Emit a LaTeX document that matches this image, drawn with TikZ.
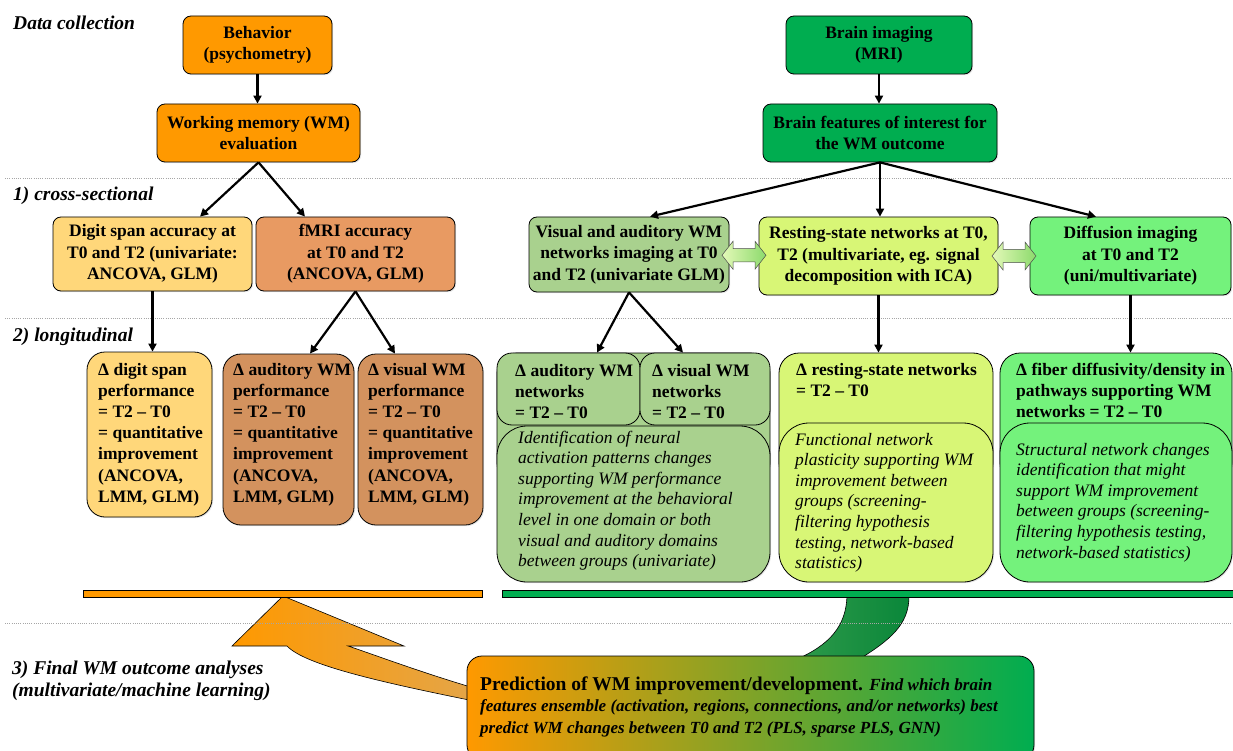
\documentclass[tikz,border=0pt]{standalone}
\usepackage{fontspec}
\setmainfont{Liberation Serif}
\usetikzlibrary{arrows.meta,shadows,calc}
\definecolor{orangeC}{HTML}{FF9900}
\definecolor{orangeT}{HTML}{E4A548}
\definecolor{greenC}{HTML}{00AD50}
\definecolor{greenA}{HTML}{2E9A4A}
\definecolor{greenB}{HTML}{0A873A}
\definecolor{digitC}{HTML}{FFD77A}
\definecolor{fmriC}{HTML}{E89A62}
\definecolor{brownC}{HTML}{D3925E}
\definecolor{visC}{HTML}{A9D18E}
\definecolor{restC}{HTML}{D8F676}
\definecolor{diffC}{HTML}{74F27C}
\definecolor{dblL}{HTML}{E4F9B8}
\definecolor{dblR}{HTML}{8CDA6C}
\begin{document}
\begin{tikzpicture}[x=1pt,y=-1pt,
  shad/.style={drop shadow={opacity=0.2, shadow xshift=1.2pt, shadow yshift=-1.2pt}},
  box/.style={draw=black, line width=0.8pt, rounded corners=8pt, align=center,
    font=\bfseries\fontsize{17.5}{21.5}\selectfont, inner sep=2pt, shad},
  dbox/.style={draw=black, line width=0.8pt, rounded corners=18pt, inner sep=0pt, shad},
  obox/.style={draw=black, line width=0.8pt, rounded corners=20pt, inner sep=0pt},
  ibox/.style={draw=black, line width=0.8pt, rounded corners=30pt, inner sep=0pt, shad},
  sbox/.style={draw=black, line width=0.8pt, rounded corners=15pt, inner sep=0pt},
  btext/.style={anchor=base west, inner sep=0pt, font=\bfseries\fontsize{17.5}{21.2}\selectfont},
  itext/.style={anchor=base west, inner sep=0pt, font=\itshape\fontsize{17.5}{20.6}\selectfont},
  lab/.style={anchor=base west, inner sep=0pt, font=\bfseries\itshape\fontsize{19.5}{22}\selectfont},
  arr/.style={-{Triangle[length=8pt,width=8pt]}, line width=2.2pt},
  sep/.style={draw=gray!70, line width=0.8pt, dash pattern=on 1pt off 1.2pt},
  blockarrow/.style={draw=black, line width=0.6pt},
  dbl/.style={draw=black!70, line width=0.5pt, left color=dblL, right color=dblR}
]
\useasboundingbox (0,0) rectangle (1233,751);

% ---- curved block arrows (behind) ----
\path[blockarrow, left color=orangeC, right color=orangeT]
  (283,596) -- (404,646) -- (348,646)
  .. controls (375,655) and (420,672) .. (474,688) -- (474,701)
  .. controls (380,682) and (305,665) .. (287,646) -- (232,646) -- cycle;
\path[blockarrow, left color=greenA, right color=greenB]
  (847,596) .. controls (846,626) and (830,645) .. (795,660) -- (858,660)
  .. controls (890,640) and (909,625) .. (909,596) -- cycle;

% ---- separators ----
\draw[sep] (5,178) -- (1233,178);
\draw[sep] (5,318) -- (1233,318);
\draw[sep] (5,623) -- (1233,623);

% ---- section labels ----
\node[lab] (l0) at (13,30) {Data collection};
\node[lab] (l1) at (13,201) {1) cross-sectional};
\node[lab] (l2) at (13,341) {2) longitudinal};
\node[lab] (l3) at (12,674) {\parbox[t]{400pt}{\raggedright 3) Final WM outcome analyses\\(multivariate/machine learning)}};

% ---- top boxes ----
\node[box, fill=orangeC, minimum width=149pt, minimum height=58pt] (beh) at (257.5,45) {Behavior\\(psychometry)};
\node[box, fill=orangeC, minimum width=203pt, minimum height=58pt] (wm) at (258.5,133) {Working memory (WM)\\evaluation};
\node[box, fill=greenC, minimum width=186pt, minimum height=58pt] (bi) at (879,45) {Brain imaging\\(MRI)};
\node[box, fill=greenC, minimum width=234pt, minimum height=58pt] (bf) at (880,133) {Brain features of interest for\\the WM outcome};

% ---- cross-sectional ----
\node[box, fill=digitC, minimum width=199pt, minimum height=74pt] (dig) at (152.5,254) {Digit span accuracy at\\T0 and T2 (univariate:\\ANCOVA, GLM)};
\node[box, fill=fmriC, minimum width=199pt, minimum height=74pt] (fmri) at (355.5,254) {fMRI accuracy\\at T0 and T2\\(ANCOVA, GLM)};
\node[box, fill=visC, minimum width=200pt, minimum height=75pt] (vis) at (629,254.5) {Visual and auditory WM\\networks imaging at T0\\and T2 (univariate GLM)};
\node[box, fill=restC, minimum width=239pt, minimum height=78pt] (rest) at (878.5,256) {Resting-state networks at T0,\\T2 (multivariate, eg. signal\\decomposition with ICA)};
\node[box, fill=diffC, minimum width=201pt, minimum height=78pt] (diff) at (1130.5,256) {Diffusion imaging\\at T0 and T2\\(uni/multivariate)};

% ---- longitudinal, behaviour ----
\node[dbox, fill=digitC, minimum width=125pt, minimum height=165pt] (ddig) at (149.5,434.5) {};
\node[dbox, fill=brownC, minimum width=131pt, minimum height=171pt] (daud) at (288.5,439.5) {};
\node[dbox, fill=brownC, minimum width=125pt, minimum height=171pt] (dvis) at (420.5,439.5) {};
\node[btext] (tddig) at (98,375) {\parbox[t]{120pt}{\raggedright Δ digit span\\performance\\= T2 – T0\\= quantitative\\improvement\\(ANCOVA,\\LMM, GLM)}};
\node[btext] (tdaud) at (233,375) {\parbox[t]{125pt}{\raggedright Δ auditory WM\\performance\\= T2 – T0\\= quantitative\\improvement\\(ANCOVA,\\LMM, GLM)}};
\node[btext] (tdvis) at (368,375) {\parbox[t]{120pt}{\raggedright Δ visual WM\\performance\\= T2 – T0\\= quantitative\\improvement\\(ANCOVA,\\LMM, GLM)}};

% ---- longitudinal, imaging ----
\node[obox, fill=visC, minimum width=273pt, minimum height=130pt] (gout) at (633.5,418) {};
\node[sbox, fill=visC, minimum width=143pt, minimum height=72pt] (gaud) at (568.5,389) {};
\node[sbox, fill=visC, minimum width=130pt, minimum height=72pt] (gvis) at (705,389) {};
\node[ibox, fill=visC, minimum width=273pt, minimum height=156pt] (ginn) at (633.5,504) {};
\node[btext] (tgaud) at (515,376) {\parbox[t]{125pt}{\raggedright Δ auditory WM\\networks\\= T2 – T0}};
\node[btext] (tgvis) at (652,376) {\parbox[t]{115pt}{\raggedright Δ visual WM\\networks\\= T2 – T0}};
\node[itext] (tginn) at (518,443) {\parbox[t]{250pt}{\raggedright Identification of neural\\activation patterns changes\\supporting WM performance\\improvement at the behavioral\\level in one domain or both\\visual and auditory domains\\between groups (univariate)}};

\node[obox, fill=restC, minimum width=214pt, minimum height=130pt] (rout) at (886,418) {};
\node[ibox, fill=restC, minimum width=214pt, minimum height=159pt] (rinn) at (886,502.5) {};
\node[btext] (trout) at (796,375) {\parbox[t]{200pt}{\raggedright Δ resting-state networks\\= T2 – T0}};
\node[itext] (trinn) at (795,445) {\parbox[t]{200pt}{\raggedright Functional network\\plasticity supporting WM\\improvement between\\groups (screening-\\filtering hypothesis\\testing, network-based\\statistics)}};

\node[obox, fill=diffC, minimum width=232pt, minimum height=130pt] (fout) at (1116,418) {};
\node[ibox, fill=diffC, minimum width=232pt, minimum height=159pt] (finn) at (1116,502.5) {};
\node[btext] (tfout) at (1016,375) {\parbox[t]{220pt}{\raggedright Δ fiber diffusivity/density in\\pathways supporting WM\\networks = T2 – T0}};
\node[itext] (tfinn) at (1016,455) {\parbox[t]{220pt}{\raggedright Structural network changes\\identification that might\\support WM improvement\\between groups (screening-\\filtering hypothesis testing,\\network-based statistics)}};

% ---- bars ----
\node[draw=black, line width=0.6pt, fill=orangeC, minimum width=399pt, minimum height=7pt, inner sep=0pt] (obar) at (282.5,593.5) {};
\node[draw=black, line width=0.6pt, fill=greenC, minimum width=738pt, minimum height=7pt, inner sep=0pt] (gbar) at (871,593.5) {};

% ---- arrows ----
\draw[arr] (beh.south) -- (beh.south |- wm.north);
\draw[arr] (wm.south) -- ([xshift=47.5pt]dig.north);
\draw[arr] (wm.south) -- ([xshift=-50.5pt]fmri.north);
\draw[arr] (dig.south) -- (dig.south |- ddig.north);
\draw[arr] (fmri.south) -- ([xshift=21.5pt]daud.north);
\draw[arr] (fmri.south) -- ([xshift=-25.5pt]dvis.north);
\draw[arr] (bi.south) -- (bi.south |- bf.north);
\draw[arr] (bf.south) -- ([xshift=21pt]vis.north);
\draw[arr] (bf.south) -- (bf.south |- rest.north);
\draw[arr] (bf.south) -- ([xshift=-34.5pt]diff.north);
\draw[arr] (vis.south) -- ([xshift=28.5pt]gaud.north);
\draw[arr] (vis.south) -- ([xshift=-22pt]gvis.north);
\draw[arr] (rest.south) -- (rest.south |- rout.north);
\draw[arr] (diff.south) -- (diff.south |- fout.north);

% ---- double arrows ----
\coordinate (dA) at ($(vis.east)!0.5!(rest.west)$);
\coordinate (dB) at ($(rest.east)!0.5!(diff.west)$);
\foreach \c in {dA,dB}{
  \path[dbl] (\c) ++(-22,0) -- ++(11,-14) -- ++(0,7.5) -- ++(22,0) -- ++(0,-7.5)
    -- ++(11,14) -- ++(-11,14) -- ++(0,-7.5) -- ++(-22,0) -- ++(0,7.5) -- cycle;
}

% ---- prediction box ----
\node[draw=black, line width=0.8pt, rounded corners=15pt, left color=orangeC, right color=greenC,
  minimum width=567pt, minimum height=104pt, inner sep=0pt, shad] (pred) at (750.5,708) {};
\node[anchor=base west, inner sep=0pt] (predt) at (480,690) {\parbox[t]{560pt}{\raggedright\fontsize{19.5}{21.5}\selectfont\bfseries Prediction of WM improvement/development. {\itshape\fontsize{17}{21.5}\selectfont Find which brain\\features ensemble (activation, regions, connections, and/or networks) best\\predict WM changes between T0 and T2 (PLS, sparse PLS, GNN)}}};
\end{tikzpicture}
\end{document}
